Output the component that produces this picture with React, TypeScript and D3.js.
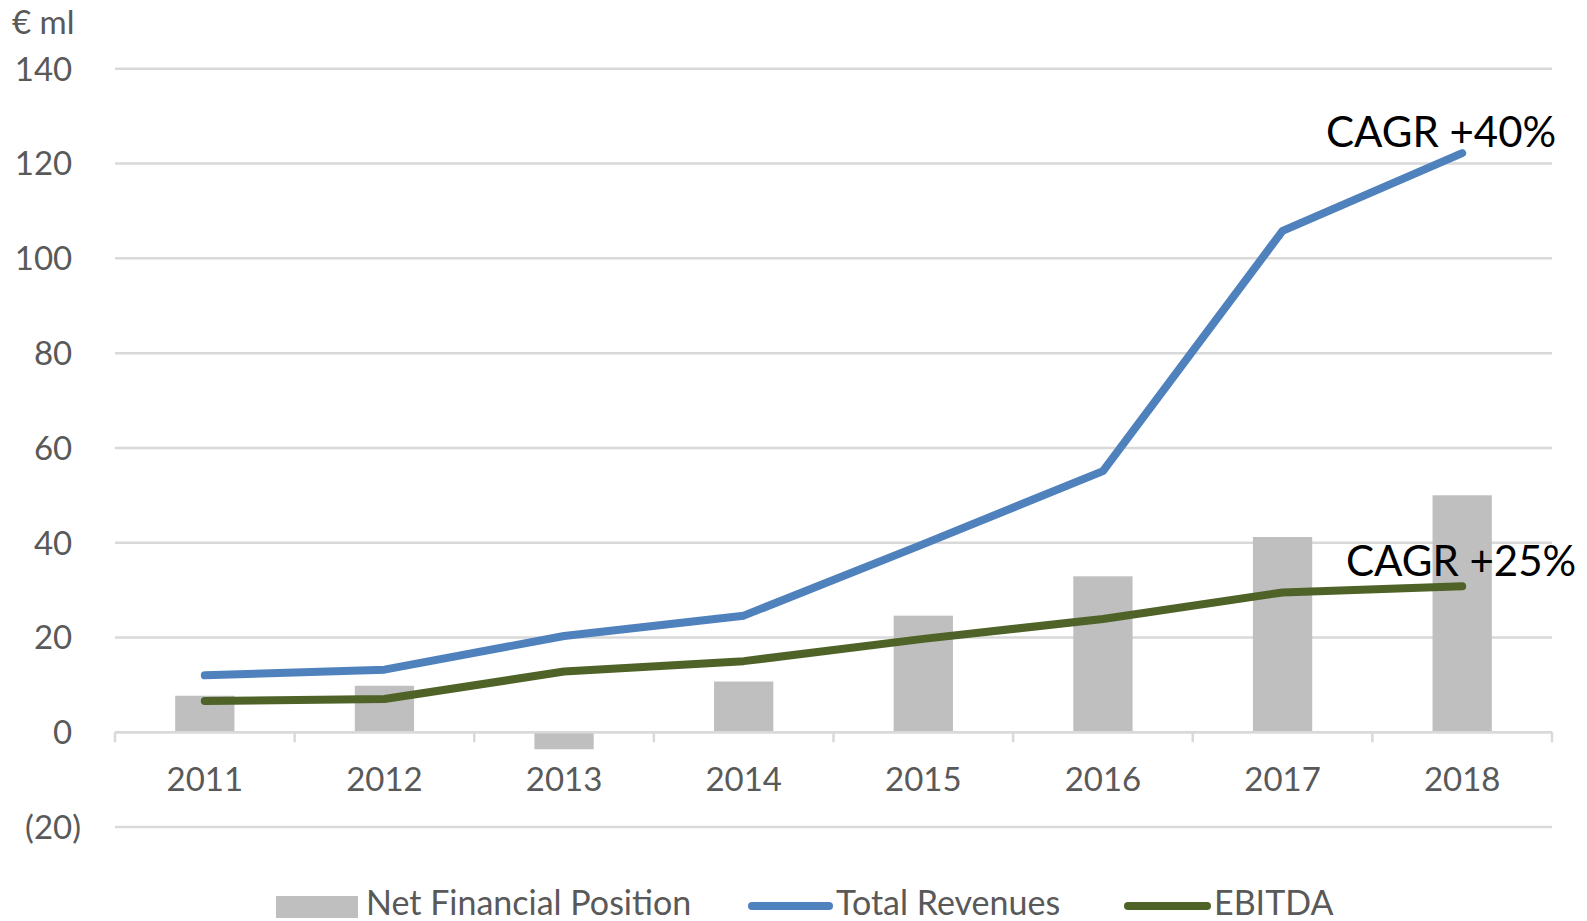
import React from "react";
import * as d3 from "d3";

const years = ["2011", "2012", "2013", "2014", "2015", "2016", "2017", "2018"];
const netFinancialPosition = [7.7, 9.8, -3.6, 10.7, 24.6, 32.9, 41.2, 50.0];
const totalRevenues = [12.0, 13.2, 20.3, 24.6, 39.7, 55.1, 105.8, 122.2];
const ebitda = [6.6, 7.0, 12.8, 15.0, 19.7, 23.9, 29.5, 30.8];
const yTicks = [-20, 0, 20, 40, 60, 80, 100, 120, 140];
const legendItems = ["Net Financial Position", "Total Revenues", "EBITDA"];
const cagrLabels = ["CAGR +40%", "CAGR +25%"];

const W = 1587;
const H = 921;
const FONT = "Lato, 'Open Sans', sans-serif";
const GRID = "#d9d9d9";
const BAR = "#bfbfbf";
const BLUE = "#4f81bd";
const GREEN = "#4f6228";
const TEXT = "#595959";

export default function App() {
  const x = d3.scaleBand<string>().domain(years).range([115, 1552]).padding(0);
  const y = d3.scaleLinear().domain([-20, 140]).range([827, 68.8]);
  const bw = x.bandwidth() * 0.33;
  const cx = (yr: string) => (x(yr) as number) + x.bandwidth() / 2;

  const line = d3
    .line<number>()
    .x((_, i) => cx(years[i]))
    .y((d) => y(d));

  const fmt = (v: number) => (v < 0 ? `(${Math.abs(v)})` : `${v}`);
  const boundaries = years.map((yr) => x(yr) as number).concat([x.range()[1]]);

  const lastX = cx(years[years.length - 1]);

  return (
    <svg
      width={W}
      height={H}
      style={{ position: "absolute", left: 0, top: 0, background: "#fff" }}
      fontFamily={FONT}
    >
      {/* gridlines */}
      {yTicks.map((t) => (
        <line
          key={"g" + t}
          x1={115}
          x2={1552}
          y1={y(t)}
          y2={y(t)}
          stroke={GRID}
          strokeWidth={2.5}
        />
      ))}
      {/* y tick labels */}
      {yTicks.map((t) => (
        <text
          key={"yl" + t}
          x={81}
          y={y(t)}
          dy="0.36em"
          textAnchor="end"
          fontSize={33}
          fill={TEXT}
        >
          {fmt(t)}
          {t >= 0 ? <tspan fillOpacity={0}>)</tspan> : null}
        </text>
      ))}
      <text x={12} y={34} fontSize={33} fill={TEXT}>
        € ml
      </text>
      {/* bars */}
      {years.map((yr, i) => {
        const v = netFinancialPosition[i];
        return (
          <rect
            key={"b" + yr}
            x={cx(yr) - bw / 2}
            width={bw}
            y={Math.min(y(v), y(0))}
            height={Math.abs(y(v) - y(0))}
            fill={BAR}
          />
        );
      })}
      {/* x axis */}
      <line x1={115} x2={1552} y1={y(0)} y2={y(0)} stroke={GRID} strokeWidth={2.5} />
      {boundaries.map((b, i) => (
        <line key={"t" + i} x1={b} x2={b} y1={y(0)} y2={y(0) + 10} stroke={GRID} strokeWidth={2.5} />
      ))}
      {years.map((yr) => (
        <text key={"xl" + yr} x={cx(yr)} y={791} textAnchor="middle" fontSize={33} fill={TEXT}>
          {yr}
        </text>
      ))}
      {/* lines */}
      <path
        d={line(totalRevenues) || ""}
        fill="none"
        stroke={BLUE}
        strokeWidth={8}
        strokeLinecap="round"
        strokeLinejoin="round"
      />
      <path
        d={line(ebitda) || ""}
        fill="none"
        stroke={GREEN}
        strokeWidth={8}
        strokeLinecap="round"
        strokeLinejoin="round"
      />
      {/* CAGR labels */}
      <text x={lastX + 94} y={y(totalRevenues[7]) - 6} textAnchor="end" fontSize={42} fill="#000">
        {cagrLabels[0]}
      </text>
      <text x={lastX + 114} y={y(ebitda[7]) - 10} textAnchor="end" fontSize={42} fill="#000">
        {cagrLabels[1]}
      </text>
      {/* legend */}
      <rect x={276} y={896} width={82} height={22} fill={BAR} />
      <text x={366} y={915} fontSize={34} fill={TEXT}>
        {legendItems[0]}
      </text>
      <line x1={752} x2={829} y1={906} y2={906} stroke={BLUE} strokeWidth={8} strokeLinecap="round" />
      <text x={836} y={915} fontSize={34} fill={TEXT}>
        {legendItems[1]}
      </text>
      <line x1={1128} x2={1207} y1={906} y2={906} stroke={GREEN} strokeWidth={8} strokeLinecap="round" />
      <text x={1214} y={915} fontSize={34} fill={TEXT}>
        {legendItems[2]}
      </text>
    </svg>
  );
}
